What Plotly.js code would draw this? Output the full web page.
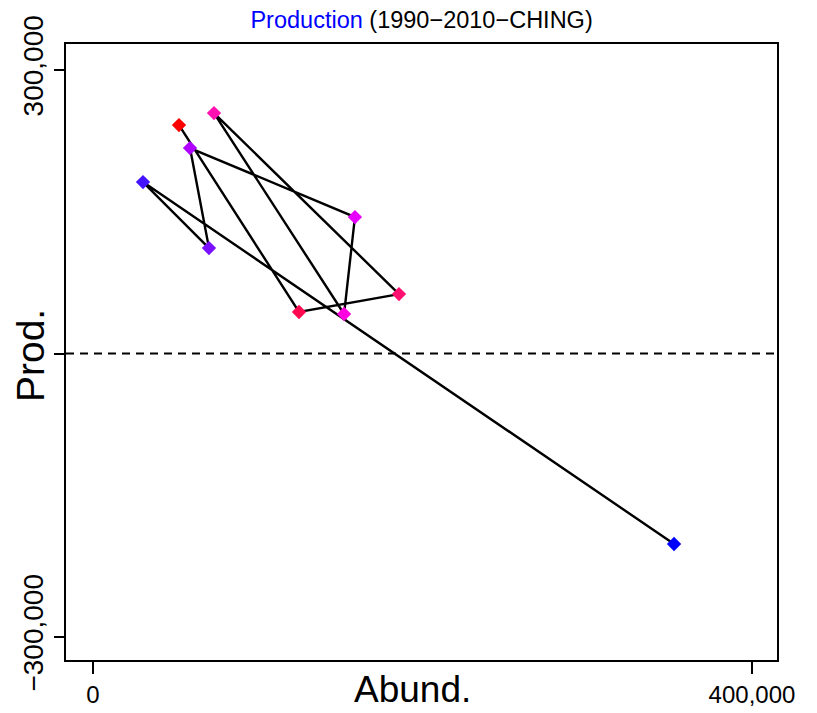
<!DOCTYPE html>
<html>
<head>
<meta charset="utf-8">
<script src="https://cdn.plot.ly/plotly-3.0.1.min.js"></script>
<style>html,body{margin:0;padding:0;background:#fff;}#chart{width:817px;height:713px;}</style>
</head>
<body>
<div id="chart"></div>
<script>
// Abundance (x) and Production (y) per observation, in path order
const abund = [352700, 30350, 70400, 58900, 159000, 152400, 73450, 185750, 125050, 52200];
const prod  = [-201550, 181450, 111600, 217400, 144400, 41800, 254400, 62900, 43900, 241700];
const pointColors = ["#0000FF", "#4413FF", "#7A10FF", "#B000FF", "#E800FF", "#FF00E0", "#FF10B0", "#FF1070", "#FF0850", "#FF0000"];
const xTickVals = [0, 400000];
const xTickText = ["0", "400,000"];
const yTickVals = [-300000, 0, 300000];
const yTickText = ["\u2212300,000", "", "300,000"];

const FONT = "'Liberation Sans', Arial, sans-serif";

const traces = [
  {x: abund, y: prod, type: "scatter", mode: "lines",
   line: {color: "#000", width: 2.4}, hoverinfo: "skip", showlegend: false},
  {x: abund, y: prod, type: "scatter", mode: "markers",
   marker: {symbol: "diamond", size: 11, color: pointColors, line: {width: 0}},
   showlegend: false}
];

const layout = {
  width: 817, height: 713,
  margin: {l: 66, r: 40, t: 44, b: 53},
  paper_bgcolor: "#fff", plot_bgcolor: "#fff",
  font: {family: FONT, color: "#000"},
  showlegend: false,
  title: {
    text: "<span style='color:#0000FF'>Production</span> (1990\u22122010\u2212CHING)",
    font: {family: FONT, size: 23.5, color: "#000"},
    x: 0.516, xanchor: "center", xref: "container",
    y: 0.972, yanchor: "middle", yref: "container"
  },
  xaxis: {
    range: [-16390, 415200], showgrid: false, zeroline: false,
    showline: true, mirror: true, linecolor: "#000", linewidth: 2,
    ticks: "outside", ticklen: 12, tickwidth: 2, tickcolor: "#000",
    tickmode: "array", tickvals: xTickVals, ticktext: xTickText,
    tickfont: {family: FONT, size: 24, color: "#000"}
  },
  yaxis: {
    range: [-324300, 327500], showgrid: false, zeroline: false,
    showline: true, mirror: true, linecolor: "#000", linewidth: 2,
    ticks: "outside", ticklen: 10, tickwidth: 2, tickcolor: "#000",
    tickmode: "array", tickvals: yTickVals, ticktext: yTickText,
    tickangle: -90,
    tickfont: {family: FONT, size: 28, color: "#000"}
  },
  shapes: [
    {type: "line", xref: "paper", x0: 0, x1: 1, yref: "y", y0: 0, y1: 0,
     line: {color: "#000", width: 2, dash: "8px,6px"}}
  ],
  annotations: [
    {text: "Abund.", xref: "paper", yref: "paper", x: 0.488, y: -0.0487,
     xanchor: "center", yanchor: "middle", showarrow: false,
     font: {family: FONT, size: 37, color: "#000"}},
    {text: "Prod.", xref: "paper", yref: "paper", x: -0.0506, y: 0.4935,
     xanchor: "center", yanchor: "middle", showarrow: false, textangle: -90,
     font: {family: FONT, size: 39, color: "#000"}}
  ]
};

Plotly.newPlot("chart", traces, layout, {displayModeBar: false, staticPlot: true});
</script>
</body>
</html>
